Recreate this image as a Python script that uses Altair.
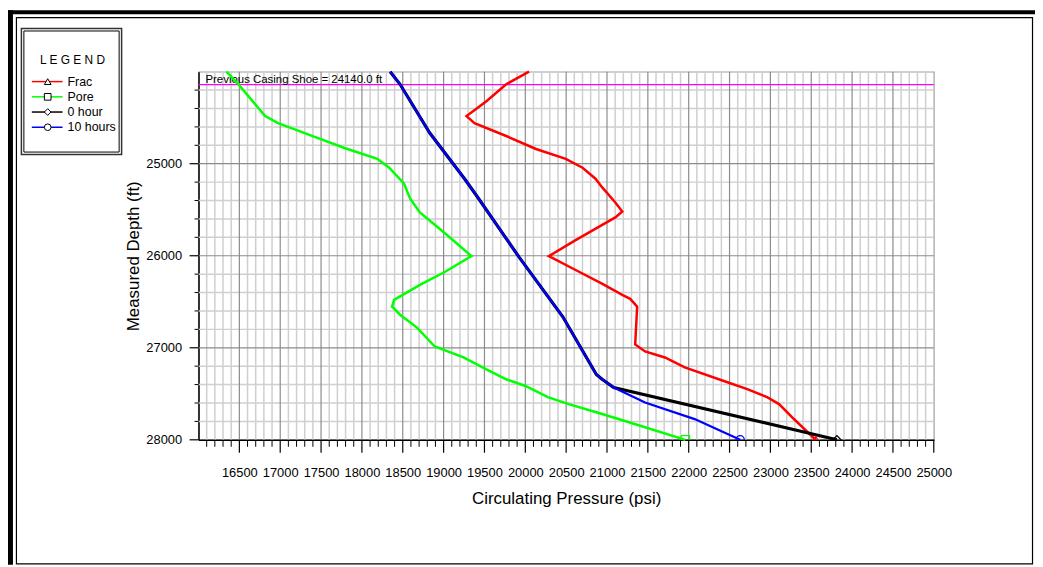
import altair as alt
import pandas as pd

# ---------------- data ----------------
SERIES = ["Frac", "Pore", "0 hour", "10 hours"]
COLORS = ["#FF0000", "#00FF00", "#000000", "#0000FF"]
SHAPES = ["triangle-up", "square", "diamond", "circle"]

frac_depth = [24000, 24137, 24321, 24483, 24559, 24699, 24840, 24947, 25044, 25163,
              25260, 25421, 25519, 25583, 25831, 26004, 26155, 26306, 26425, 26468,
              26554, 26964, 27040, 27105, 27213, 27375, 27450, 27536, 27612, 27774, 28000]
frac_psi = [20046, 19766, 19524, 19281, 19378, 19766, 20131, 20495, 20701, 20859,
            20944, 21102, 21187, 21102, 20616, 20289, 20616, 20944, 21187, 21284,
            21369, 21345, 21466, 21709, 21952, 22474, 22717, 22960, 23106, 23288, 23555]

pore_depth = [24000, 24137, 24483, 24559, 24732, 24829, 24947, 25044, 25217, 25378,
              25529, 25745, 26004, 26177, 26317, 26479, 26554, 26641, 26781, 26986,
              27105, 27234, 27342, 27418, 27536, 27612, 27698, 27806, 28000]
pore_psi = [16342, 16488, 16816, 16974, 17496, 17787, 18188, 18334, 18516, 18589,
            18710, 19002, 19341, 19014, 18710, 18394, 18370, 18467, 18674, 18892,
            19244, 19524, 19766, 20009, 20276, 20531, 20859, 21260, 21960]

hour0_depth = [24000, 24137, 24667, 25163, 25345, 26015, 26663, 27290, 27342, 27431, 28000]
hour0_psi = [18346, 18467, 18831, 19256, 19402, 19924, 20459, 20870, 20940, 21082, 23814]

hour10_depth = [24000, 24137, 24667, 25163, 25345, 26015, 26663, 27290, 27342, 27431,
                27594, 27775, 28000]
hour10_psi = [18346, 18467, 18831, 19256, 19402, 19924, 20459, 20870, 20940, 21082,
              21466, 22073, 22630]

casing_shoe = 24140

x_labels = list(range(16500, 25001, 500))
y_labels = [25000, 26000, 27000, 28000]
x_grid = list(range(16100, 25000, 100))
y_grid = list(range(24200, 28000, 200))

X_MIN, X_MAX = 16000, 25000
Y_MIN, Y_MAX = 24000, 28000
W, H = 741, 371
FONT = "Liberation Sans"

xs = alt.Scale(domain=[X_MIN, X_MAX], nice=False, zero=False)
ys = alt.Scale(domain=[Y_MIN, Y_MAX], reverse=True, nice=False, zero=False)
cscale = alt.Scale(domain=SERIES, range=COLORS)
sscale = alt.Scale(domain=SERIES, range=SHAPES)

x_axis = alt.Axis(values=x_labels, format="d", ticks=False, grid=False,
                  domainColor="black", domainWidth=1.5,
                  labelFont=FONT, labelFontSize=13, labelColor="black",
                  labelPadding=27, labelFlush=False, labelOverlap=False,
                  title="Circulating Pressure (psi)", titleFont=FONT, titleFontSize=17,
                  titleFontWeight="normal", titleColor="black",
                  titleX=W / 2, titleY=59, titleBaseline="middle", titleAlign="center")
y_axis = alt.Axis(values=y_labels, format="d", ticks=False, grid=False,
                  domainColor="black", domainWidth=1.5,
                  labelFont=FONT, labelFontSize=13, labelColor="black",
                  labelPadding=17, labelFlush=False, labelOverlap=False,
                  title="Measured Depth (ft)", titleFont=FONT, titleFontSize=17,
                  titleFontWeight="normal", titleColor="black", titleAngle=270,
                  titleX=-65, titleY=H / 2, titleBaseline="middle", titleAlign="center")


def X(field):
    return alt.X(field, scale=xs, axis=x_axis)


def Y(field):
    return alt.Y(field, scale=ys, axis=y_axis)


one = pd.DataFrame({"a": [0]})

# ---------------- frames ----------------
def box(x1, x2, y1, y2, sw=1.0, col="black"):
    return alt.Chart(one).mark_rect(fillOpacity=0, stroke=col, strokeWidth=sw).encode(
        x=alt.value(x1), x2=alt.value(x2), y=alt.value(y1), y2=alt.value(y2))


def band(x1, x2, y1, y2):
    return alt.Chart(one).mark_rect(color="black").encode(
        x=alt.value(x1), x2=alt.value(x2), y=alt.value(y1), y2=alt.value(y2))


frames = [
    band(-192, 845, -62, -58),
    band(-192, -187, -62, 497),
    box(-183.5, 840.5, -54.5, 496, 1.2),
    box(-178.5, -77.5, -43.5, 83.5, 1.5, "#333333"),
    box(-176, -80, -41, 81, 1.0),
]

# ---------------- grid ----------------
gx = pd.DataFrame({"v": x_grid})
gx["major"] = gx["v"] % 500 == 0
gy = pd.DataFrame({"v": y_grid})
gy["major"] = gy["v"] % 1000 == 0

minor_x = alt.Chart(gx).transform_filter("!datum.major").mark_rule(
    color="#CFCFCF", strokeWidth=1.5).encode(x=X("v:Q"))
minor_y = alt.Chart(gy).transform_filter("!datum.major").mark_rule(
    color="#CFCFCF", strokeWidth=1.5).encode(y=Y("v:Q"))
major_x = alt.Chart(gx).transform_filter("datum.major").mark_rule(
    color="#8C8C8C", strokeWidth=1.2).encode(x=X("v:Q"))
major_y = alt.Chart(gy).transform_filter("datum.major").mark_rule(
    color="#8C8C8C", strokeWidth=1.2).encode(y=Y("v:Q"))

# tick marks
tx = pd.DataFrame({"v": x_grid + [X_MAX]})
tx["major"] = tx["v"] % 500 == 0
ty = pd.DataFrame({"v": y_grid + [Y_MAX]})
ty["major"] = ty["v"] % 1000 == 0
tick_x_minor = alt.Chart(tx).transform_filter("!datum.major").mark_rule(
    color="black", strokeWidth=1).encode(x=X("v:Q"), y=alt.value(H), y2=alt.value(H + 7))
tick_x_major = alt.Chart(tx).transform_filter("datum.major").mark_rule(
    color="black", strokeWidth=1.2).encode(x=X("v:Q"), y=alt.value(H), y2=alt.value(H + 13))
tick_y_minor = alt.Chart(ty).transform_filter("!datum.major").mark_rule(
    color="black", strokeWidth=1).encode(y=Y("v:Q"), x=alt.value(-4), x2=alt.value(0))
tick_y_major = alt.Chart(ty).transform_filter("datum.major").mark_rule(
    color="black", strokeWidth=1.2).encode(y=Y("v:Q"), x=alt.value(-9), x2=alt.value(0))

# casing shoe
shoe_df = pd.DataFrame({"d": [casing_shoe],
                        "label": [f"Previous Casing Shoe = {casing_shoe:.1f} ft"]})
shoe_rule = alt.Chart(shoe_df).mark_rule(color="#FF00FF", strokeWidth=1.2).encode(y=Y("d:Q"))
shoe_text = alt.Chart(shoe_df).mark_text(
    align="left", baseline="alphabetic", dy=-2, font=FONT, fontSize=11.5, color="black"
).encode(x=alt.value(7), y=Y("d:Q"), text="label:N")

# ---------------- series ----------------
series_data = {
    "Frac": (frac_depth, frac_psi),
    "Pore": (pore_depth, pore_psi),
    "0 hour": (hour0_depth, hour0_psi),
    "10 hours": (hour10_depth, hour10_psi),
}
widths = {"Frac": 2.5, "Pore": 2.5, "0 hour": 3.2, "10 hours": 2.2}

line_layers = []
end_rows = []
for i, name in enumerate(SERIES):
    d, p = series_data[name]
    df = pd.DataFrame({"depth": d, "psi": p, "idx": range(len(d)), "series": name})
    end_rows.append({"series": name, "depth": d[-1], "psi": p[-1]})
    line_layers.append(
        alt.Chart(df).mark_line(strokeWidth=widths[name], color=COLORS[i]).encode(
            x=X("psi:Q"), y=Y("depth:Q"), order="idx:Q")
    )

end_df = pd.DataFrame(end_rows)
end_marks = alt.Chart(end_df).mark_point(
    clip=True, filled=False, size=70, strokeWidth=1.3, opacity=1).encode(
    x=X("psi:Q"), y=Y("depth:Q"),
    color=alt.Color("series:N", scale=cscale, legend=None),
    shape=alt.Shape("series:N", scale=sscale, legend=None),
)

main = alt.layer(
    *frames, minor_x, minor_y, major_x, major_y, shoe_rule, shoe_text,
    *line_layers, end_marks,
    tick_x_minor, tick_x_major, tick_y_minor, tick_y_major,
)

# ---------------- legend ----------------
legend_df = pd.DataFrame({"series": SERIES})
ly = alt.Y("series:N", scale=alt.Scale(type="point", domain=SERIES, range=[10, 56], padding=0),
           axis=None)
leg_rule = alt.Chart(legend_df).mark_rule(strokeWidth=1.5).encode(
    x=alt.value(-168), x2=alt.value(-137), y=ly,
    color=alt.Color("series:N", scale=cscale, legend=None))
leg_point = alt.Chart(legend_df).mark_point(
    fill="white", stroke="black", strokeWidth=1, size=45, opacity=1).encode(
    x=alt.value(-152), y=ly, shape=alt.Shape("series:N", scale=sscale, legend=None))
leg_text = alt.Chart(legend_df).mark_text(
    align="left", baseline="middle", font=FONT, fontSize=12.5, color="black").encode(
    x=alt.value(-132), y=ly, text="series:N")
leg_title = alt.Chart(one).mark_text(
    align="center", baseline="middle", font=FONT, fontSize=12, color="black").encode(
    x=alt.value(-127), y=alt.value(-12), text=alt.value("L E G E N D"))

legend = alt.layer(leg_rule, leg_point, leg_text, leg_title)

chart = alt.layer(main, legend).resolve_scale(
    y="independent", color="independent", shape="independent"
).properties(
    width=W, height=H,
    padding={"left": 192, "top": 62, "right": 102, "bottom": 126},
    autosize=alt.AutoSizeParams(type="none"),
    background="white",
).configure_view(stroke="#A0A0A0", strokeWidth=1.2)

chart.save("out.html", embed_options={"renderer": "svg", "actions": False})
